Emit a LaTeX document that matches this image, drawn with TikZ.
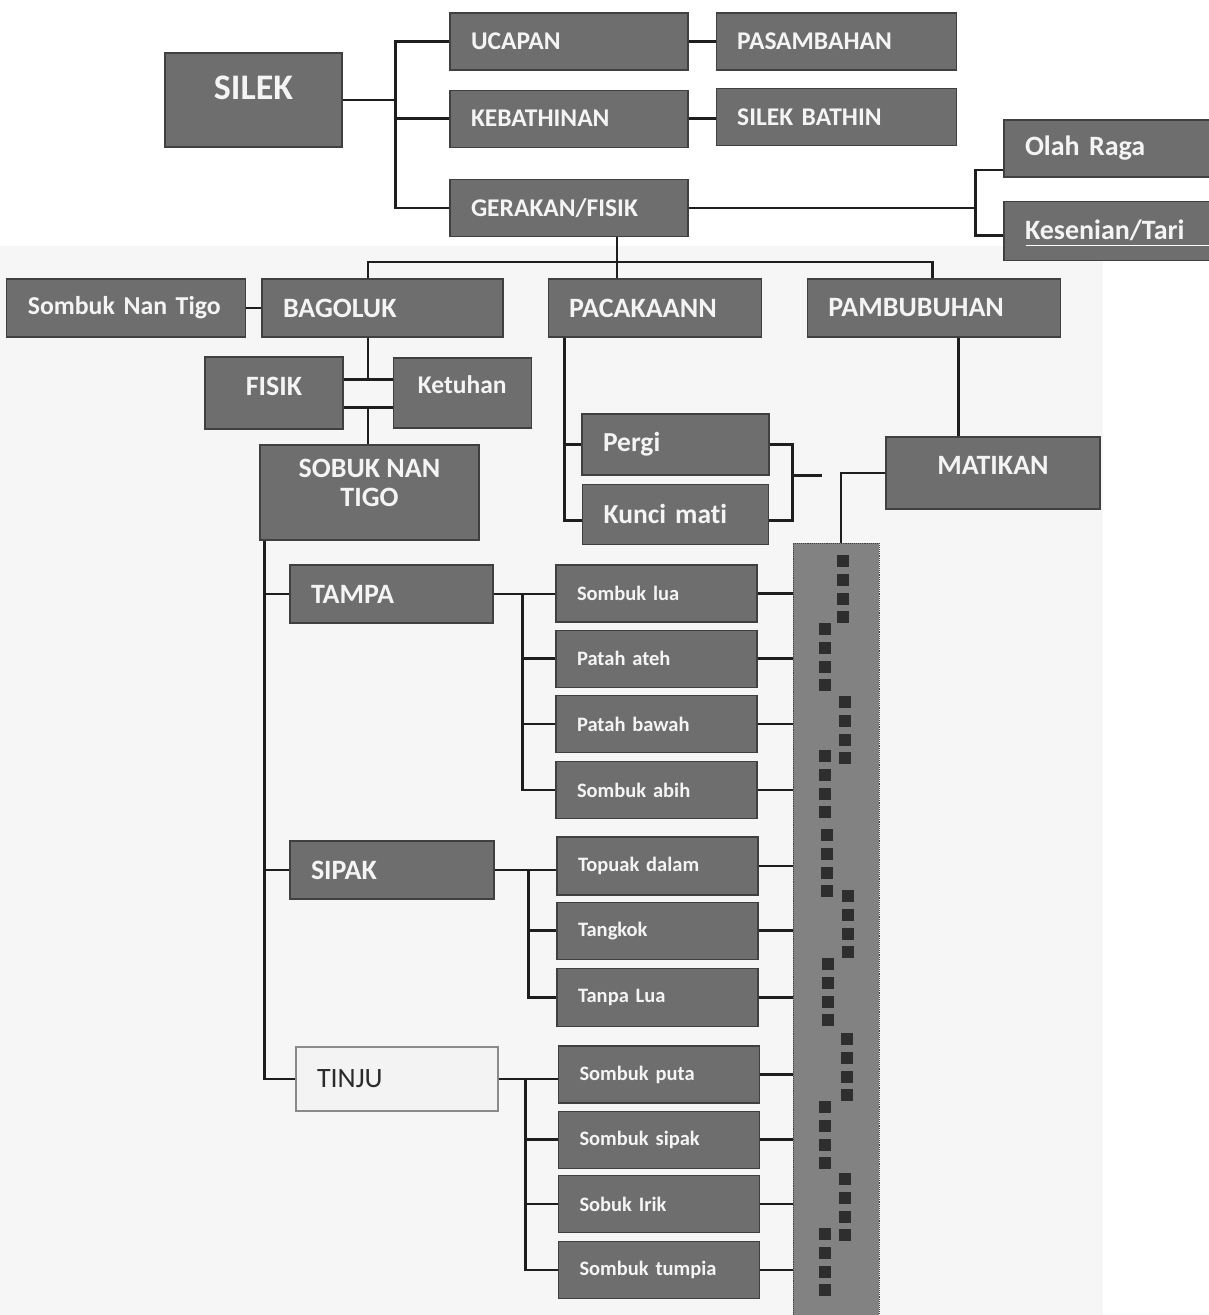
\documentclass[tikz,border=0pt]{standalone}
\usepackage{fontspec}
\setmainfont{Carlito}[Ligatures=NoCommon]
\usepackage{tikz}
\usetikzlibrary{positioning,calc}
\definecolor{SilekFill}{HTML}{6E6E6E}
\definecolor{SilekEdge}{HTML}{404040}
\definecolor{SilekText}{HTML}{F4F4F4}
\definecolor{SilekBar}{HTML}{828282}
\definecolor{SilekChip}{HTML}{2E2E2E}
\definecolor{SilekLine}{HTML}{1E1E1E}
\definecolor{SilekPaper}{HTML}{F6F6F6}
\definecolor{SilekPale}{HTML}{F3F3F3}
\definecolor{SilekPaleEdge}{HTML}{8A8A8A}
\definecolor{SilekDark}{HTML}{2A2A2A}
\tikzset{
  greybox/.style={rectangle,draw=SilekEdge,fill=SilekFill,line width=1.2pt,text=SilekText,inner ysep=0pt},
  leftbox/.style={greybox,text width=#1,inner xsep=21pt,align=left},
  topbox/.style={leftbox=#1,minimum height=57pt,font=\fontsize{25.5}{28}\selectfont\bfseries},
  midbox/.style={leftbox=#1,minimum height=58pt,font=\fontsize{28}{30}\selectfont\bfseries},
  leafbox/.style={leftbox=159pt,minimum height=57pt,font=\fontsize{20.5}{24}\selectfont\bfseries},
  centerbox/.style={greybox,align=center,inner xsep=0pt,font=\fontsize{28}{29}\selectfont\bfseries},
  palebox/.style={leftbox=#1,draw=SilekPaleEdge,fill=SilekPale,text=SilekDark,minimum height=64pt,font=\fontsize{28}{30}\selectfont},
  barbox/.style={rectangle,draw=SilekEdge,densely dotted,line width=0.9pt,fill=SilekBar},
  chip/.style={fill=SilekChip},
  link/.style={draw=SilekLine,line width=2.6pt},
}
\begin{document}
\begin{tikzpicture}[x=1pt,y=-1pt]
  \useasboundingbox (0,0) rectangle (1208,1315);
  \fill[white] (0,0) rectangle (1208,1315);
  \fill[SilekPaper] (0,246) rectangle (1103,1315);

  % ── SILEK and its three branches ──
  \node[centerbox, minimum width=177pt, minimum height=94pt, text depth=24pt, font=\fontsize{36}{40}\selectfont\bfseries] (silek) at (253.5,100) {SILEK};
  \node[topbox=196pt] (ucapan) at (569,41.5) {UCAPAN};
  \node[topbox=196pt, below=19pt of ucapan] (kebathinan) {KEBATHINAN};
  \node[topbox=196pt, below=31pt of kebathinan] (gerakan) {GERAKAN/FISIK};
  \node[topbox=198pt, right=27pt of ucapan] (pasambahan) {PASAMBAHAN};
  \node[topbox=198pt, right=27pt of kebathinan, yshift=1.5pt] (silekbathin) {SILEK BATHIN};
  \node[midbox=169pt, minimum height=57pt, text depth=6pt] (olahraga) at (1109.5,148.5) {Olah Raga};
  \node[midbox=169pt, minimum height=59pt, below=23pt of olahraga] (kesenian) {Kesenian/Tari};

  % ── Gerakan row ──
  \node[midbox=199pt] (bagoluk) at (382.5,308) {BAGOLUK};
  \node[midbox=197pt, left=15pt of bagoluk, font=\fontsize{25.8}{30}\selectfont\bfseries] (sombuknantigo) {Sombuk Nan Tigo};
  \node[midbox=171pt, right=44pt of bagoluk] (pacakaann) {PACAKAANN};
  \node[midbox=211pt, right=45pt of pacakaann] (pambubuhan) {PAMBUBUHAN};

  \node[centerbox, minimum width=138pt, minimum height=72pt, text depth=14pt] (fisik) at (274,393) {FISIK};
  \node[centerbox, minimum width=138pt, minimum height=70pt, text depth=16pt, right=49pt of fisik, font=\fontsize{25.5}{28}\selectfont\bfseries] (ketuhan) {Ketuhan};
  \node[centerbox, minimum width=219pt, minimum height=95pt, text depth=20pt] (sobuk) at (369.5,492.5) {SOBUK NAN\\TIGO};

  \node[midbox=145pt, minimum height=61pt, font=\fontsize{27.5}{30}\selectfont\bfseries] (pergi) at (675.5,444.5) {Pergi};
  \node[midbox=144pt, minimum height=60pt, below=8pt of pergi, font=\fontsize{27.5}{30}\selectfont\bfseries] (kuncimati) {Kunci mati};
  \node[centerbox, minimum width=214pt, minimum height=72pt, text depth=16pt] (matikan) at (993,473) {MATIKAN};

  % ── Sobuk Nan Tigo ──
  \node[midbox=161pt] (tampa) at (391.5,594) {TAMPA};
  \node[midbox=162pt] (sipak) at (392,870) {SIPAK};
  \node[palebox=160pt] (tinju) at (397,1079) {TINJU};

  \node[leafbox] (sombuklua) at (656.5,593.5) {Sombuk lua};
  \node[leafbox, below=7pt of sombuklua] (patahateh) {Patah ateh};
  \node[leafbox, below=7pt of patahateh] (patahbawah) {Patah bawah};
  \node[leafbox, below=8pt of patahbawah] (sombukabih) {Sombuk abih};

  \node[leafbox, minimum height=58pt] (topuakdalam) at (657.5,866) {Topuak dalam};
  \node[leafbox, below=6pt of topuakdalam] (tangkok) {Tangkok};
  \node[leafbox, minimum height=58pt, below=8pt of tangkok] (tanpalua) {Tanpa Lua};

  \node[leafbox] (sombukputa) at (659,1074.5) {Sombuk puta};
  \node[leafbox, below=7pt of sombukputa] (sombuksipak) {Sombuk sipak};
  \node[leafbox, below=6pt of sombuksipak] (sobukirik) {Sobuk Irik};
  \node[leafbox, below=8pt of sobukirik] (sombuktumpia) {Sombuk tumpia};

  \node[barbox, minimum width=86pt, minimum height=800pt, anchor=north] (chipbar) at (836,543) {};
  \foreach \cx/\cy in {843/555,825/623,845/696,825/750,827/829,848/890,828/958,847/1033,825/1101,845/1173,825/1228}
    \foreach \k in {0,...,3}
      \fill[chip] ({\cx-6},{\cy+\k*18.8}) rectangle ++(12,12);

  \draw[white, line width=1pt] ([xshift=23pt,yshift=-14.5pt]kesenian.west) -- ([yshift=-14.5pt]kesenian.east);

  % ── Links ──
  \coordinate (silekfork) at ($(silek.east)+(53,0)$);
  \draw[link] (silek.east) -- (silekfork);
  \draw[link] (ucapan.west) -| (silekfork) |- (gerakan.west);
  \draw[link] (kebathinan.west) -- (kebathinan.west -| silekfork);
  \draw[link] (ucapan.east) -- (ucapan.east -| pasambahan.west);
  \draw[link] (kebathinan.east) -- (kebathinan.east -| silekbathin.west);

  \coordinate (gerfork) at ($(gerakan.east)+(287,0)$);
  \draw[link] (gerakan.east) -- (gerfork);
  \draw[link] ([yshift=-21.5pt]olahraga.west) -| (gerfork) |- ([yshift=-4.5pt]kesenian.west);

  \coordinate (gerdrop) at ([xshift=48pt]gerakan.south);
  \coordinate (rowbar) at ($(gerdrop)+(0,25)$);
  \draw[link] (gerdrop) -- (gerdrop |- pacakaann.north);
  \draw[link] ([xshift=-14.5pt]bagoluk.north) |- (rowbar) -| ([xshift=-1.5pt]pambubuhan.north);
  \draw[link] (sombuknantigo.east) -- (sombuknantigo.east -| bagoluk.west);

  \coordinate (bagfork) at ($([xshift=-14.5pt]bagoluk.south)+(0,42)$);
  \coordinate (sobfork) at ($(bagfork)+(0,28)$);
  \draw[link] ([xshift=-14.5pt]bagoluk.south) -- (bagfork);
  \draw[link] (fisik.east |- bagfork) -- (ketuhan.west |- bagfork);
  \draw[link] (fisik.east |- sobfork) -- (ketuhan.west |- sobfork);
  \draw[link] (sobfork) -- (sobfork |- sobuk.north);

  \coordinate (pactrunk) at ([xshift=17pt]pacakaann.south west);
  \draw[link] (pactrunk) |- ([yshift=-6pt]kuncimati.west);
  \draw[link] (pergi.west) -- (pergi.west -| pactrunk);
  \coordinate (pacfork) at ($(pergi.east)+(23,0)$);
  \draw[link] (pergi.east) -- (pacfork) |- ([yshift=-6pt]kuncimati.east);
  \coordinate (pacstub) at ($(pacfork)+(29,31)$);
  \draw[link] (pacstub -| pacfork) -- (pacstub);

  \draw[link] ([xshift=24.5pt]pambubuhan.south) -- ([xshift=24.5pt]pambubuhan.south |- matikan.north);
  \draw[link] (matikan.west) -| ([xshift=5pt]chipbar.north);

  \coordinate (sobtrunk) at ([xshift=5pt]sobuk.south west);
  \draw[link] (sobtrunk) |- (tinju.west);
  \draw[link] (tampa.west) -- (tampa.west -| sobtrunk);
  \draw[link] (sipak.west) -- (sipak.west -| sobtrunk);

  \coordinate (tampafork) at ($(tampa.east)+(29,0)$);
  \draw[link] (tampa.east) -- (tampa.east -| sombuklua.west);
  \draw[link] (tampafork) |- (sombukabih.west);
  \foreach \leaf in {patahateh,patahbawah}
    \draw[link] (\leaf.west) -- (\leaf.west -| tampafork);

  \coordinate (sipakfork) at ($(sipak.east)+(34,0)$);
  \draw[link] (sipak.east) -- (sipak.east -| topuakdalam.west);
  \draw[link] (sipakfork) |- (tanpalua.west);
  \draw[link] (tangkok.west) -- (tangkok.west -| sipakfork);

  \coordinate (tinjufork) at ($(tinju.east)+(27,0)$);
  \draw[link] (tinju.east) -- (tinju.east -| sombukputa.west);
  \draw[link] (tinjufork) |- (sombuktumpia.west);
  \foreach \leaf in {sombuksipak,sobukirik}
    \draw[link] (\leaf.west) -- (\leaf.west -| tinjufork);

  \foreach \leaf in {sombuklua,patahateh,patahbawah,sombukabih,topuakdalam,tangkok,tanpalua,sombukputa,sombuksipak,sobukirik,sombuktumpia}
    \draw[link] (\leaf.east) -- (\leaf.east -| chipbar.west);
\end{tikzpicture}
\end{document}
